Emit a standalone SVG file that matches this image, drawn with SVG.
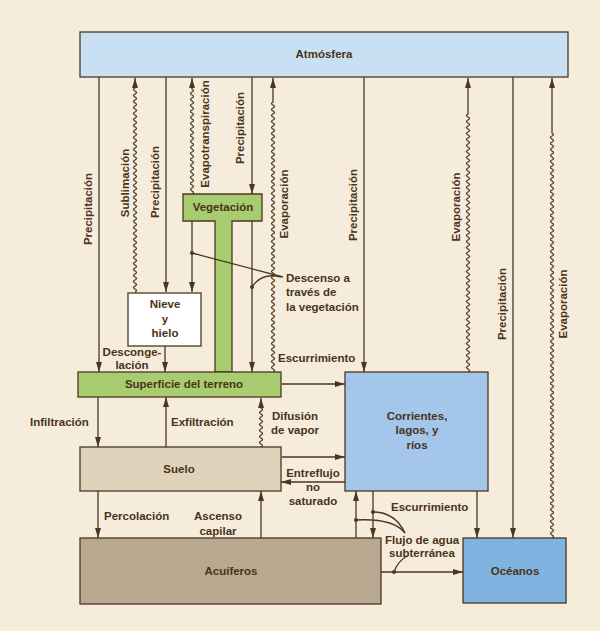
<svg xmlns="http://www.w3.org/2000/svg" width="600" height="631" viewBox="0 0 600 631">
<defs>
<style>
.bx{stroke:#4b3621;stroke-width:1.3}
.t{font-family:"Liberation Sans",Arial,sans-serif;font-weight:bold;font-size:11.5px;fill:#4a3319}
.m{text-anchor:middle}
.ln{stroke:#4b3621;stroke-width:1.3;fill:none}
.ar{marker-end:url(#ah)}
.dot{fill:#4b3621}
</style>
<marker id="ah" viewBox="0 0 10 6" refX="10" refY="3" markerWidth="10" markerHeight="6" markerUnits="userSpaceOnUse" orient="auto"><path d="M0,0 L10,3 L0,6 z" fill="#4b3621"/></marker>
</defs>
<rect x="0" y="0" width="600" height="631" fill="#f5ecdc"/>

<g id="vegetacion">
<path class="bx" fill="#a8cc70" d="M183,194 H262 V221 H232 V372 H215 V221 H183 Z"/>
<text class="t m" x="223" y="211">Vegetación</text>
</g>
<g id="atmosfera">
<rect class="bx" x="80" y="32" width="488" height="45" fill="#c8e0f2"/>
<text class="t m" x="324" y="58">Atmósfera</text>
</g>
<g id="nieve">
<rect class="bx" x="128" y="293" width="73" height="53" fill="#ffffff"/>
<text class="t m" x="165" y="308">Nieve</text>
<text class="t m" x="165" y="323">y</text>
<text class="t m" x="165" y="337">hielo</text>
</g>
<g id="superficie">
<rect class="bx" x="78" y="372" width="203" height="25" fill="#a8cc70"/>
<text class="t m" x="184" y="388">Superficie del terreno</text>
</g>
<g id="corrientes">
<rect class="bx" x="345" y="372" width="143" height="119" fill="#a3c6ea"/>
<text class="t m" x="417" y="420">Corrientes,</text>
<text class="t m" x="417" y="434">lagos, y</text>
<text class="t m" x="417" y="449">ríos</text>
</g>
<g id="suelo">
<rect class="bx" x="80" y="447" width="201" height="44" fill="#e0d3bb"/>
<text class="t m" x="179" y="473">Suelo</text>
</g>
<g id="acuiferos">
<rect class="bx" x="80" y="538" width="301" height="66" fill="#b9a890"/>
<text class="t m" x="231" y="575">Acuíferos</text>
</g>
<g id="oceanos">
<rect class="bx" x="463" y="538" width="103" height="65" fill="#7fb3e0"/>
<text class="t m" x="515" y="575">Océanos</text>
</g>

<g id="connectors">
<path class="ln ar" d="M99,77 V372"/>
<path class="ln ar" d="M166,77 V292"/>
<path class="ln ar" d="M252,77 V194"/>
<path class="ln ar" d="M364,77 V372"/>
<path class="ln ar" d="M513,77 V538"/>
<path class="ln ar" d="M192,221 V292"/>
<path class="ln ar" d="M252,221 V372"/>
<path class="ln ar" d="M165,346 V372"/>
<path class="ln ar" d="M282,384 H345"/>
<path class="ln ar" d="M98,397 V447"/>
<path class="ln ar" d="M166,447 V397"/>
<path class="ln ar" d="M282,457 H345"/>
<path class="ln ar" d="M345,482 H281"/>
<path class="ln ar" d="M98,491 V538"/>
<path class="ln ar" d="M261,538 V491"/>
<path class="ln ar" d="M356,538 V491"/>
<path class="ln ar" d="M373,491 V538"/>
<path class="ln ar" d="M477,491 V538"/>
<path class="ln ar" d="M381,572 H463"/>
<path class="ln ar" d="M135,292 q3,-1.5 0,-3 t0-3 0-3 0-3 0-3 0-3 0-3 0-3 0-3 0-3 0-3 0-3 0-3 0-3 0-3 0-3 0-3 0-3 0-3 0-3 0-3 0-3 0-3 0-3 0-3 0-3 0-3 0-3 0-3 0-3 0-3 0-3 0-3 0-3 0-3 0-3 0-3 0-3 0-3 0-3 0-3 0-3 0-3 0-3 0-3 0-3 0-3 0-3 0-3 0-3 0-3 0-3 0-3 0-3 0-3 0-3 0-3 0-3 0-3 0-3 0-3 0-3 0-3 0-3 0-3 0-3 0-3 0-3 V78"/>
<path class="ln ar" d="M192,194 q3,-1.5 0,-3 t0-3 0-3 0-3 0-3 0-3 0-3 0-3 0-3 0-3 0-3 0-3 0-3 0-3 0-3 0-3 0-3 0-3 0-3 0-3 0-3 0-3 0-3 0-3 0-3 0-3 0-3 0-3 0-3 0-3 0-3 0-3 0-3 0-3 0-3 V78"/>
<path class="ln ar" d="M273,372 q3,-1.5 0,-3 t0-3 0-3 0-3 0-3 0-3 0-3 0-3 0-3 0-3 0-3 0-3 0-3 0-3 0-3 0-3 0-3 0-3 0-3 0-3 0-3 0-3 0-3 0-3 0-3 0-3 0-3 0-3 0-3 0-3 0-3 0-3 0-3 0-3 0-3 0-3 0-3 0-3 0-3 0-3 0-3 0-3 0-3 0-3 0-3 0-3 0-3 0-3 0-3 0-3 0-3 0-3 0-3 0-3 0-3 0-3 0-3 0-3 0-3 0-3 0-3 0-3 0-3 0-3 0-3 0-3 0-3 0-3 0-3 0-3 0-3 0-3 0-3 0-3 0-3 0-3 0-3 0-3 0-3 0-3 0-3 0-3 0-3 0-3 0-3 0-3 0-3 0-3 0-3 0-3 V78"/>
<path class="ln ar" d="M468,372 q3,-1.5 0,-3 t0-3 0-3 0-3 0-3 0-3 0-3 0-3 0-3 0-3 0-3 0-3 0-3 0-3 0-3 0-3 0-3 0-3 0-3 0-3 0-3 0-3 0-3 0-3 0-3 0-3 0-3 0-3 0-3 0-3 0-3 0-3 0-3 0-3 0-3 0-3 0-3 0-3 0-3 0-3 0-3 0-3 0-3 0-3 0-3 0-3 0-3 0-3 0-3 0-3 0-3 0-3 0-3 0-3 0-3 0-3 0-3 0-3 0-3 0-3 0-3 0-3 0-3 0-3 0-3 0-3 0-3 0-3 0-3 0-3 0-3 0-3 0-3 0-3 0-3 0-3 0-3 0-3 0-3 0-3 0-3 0-3 0-3 0-3 0-3 0-3 V78"/>
<path class="ln ar" d="M552,538 q3,-1.5 0,-3 t0-3 0-3 0-3 0-3 0-3 0-3 0-3 0-3 0-3 0-3 0-3 0-3 0-3 0-3 0-3 0-3 0-3 0-3 0-3 0-3 0-3 0-3 0-3 0-3 0-3 0-3 0-3 0-3 0-3 0-3 0-3 0-3 0-3 0-3 0-3 0-3 0-3 0-3 0-3 0-3 0-3 0-3 0-3 0-3 0-3 0-3 0-3 0-3 0-3 0-3 0-3 0-3 0-3 0-3 0-3 0-3 0-3 0-3 0-3 0-3 0-3 0-3 0-3 0-3 0-3 0-3 0-3 0-3 0-3 0-3 0-3 0-3 0-3 0-3 0-3 0-3 0-3 0-3 0-3 0-3 0-3 0-3 0-3 0-3 0-3 0-3 0-3 0-3 0-3 0-3 0-3 0-3 0-3 0-3 0-3 0-3 0-3 0-3 0-3 0-3 0-3 0-3 0-3 0-3 0-3 0-3 0-3 0-3 0-3 0-3 0-3 0-3 0-3 0-3 0-3 0-3 0-3 0-3 0-3 0-3 0-3 0-3 0-3 0-3 0-3 0-3 0-3 0-3 0-3 0-3 0-3 0-3 0-3 0-3 V78"/>
<path class="ln ar" d="M261,447 q3,-1.5 0,-3 t0-3 0-3 0-3 0-3 0-3 0-3 0-3 0-3 0-3 0-3 0-3 0-3 V398"/>
<path class="ln" stroke-width="1" d="M192,253 L283,277"/>
<path class="ln" stroke-width="1" d="M252,287 Q262,272 281,277"/>
<path class="ln" stroke-width="1" d="M373,512 Q395,512 405,533"/>
<path class="ln" stroke-width="1" d="M356,520 Q393,518 405,533"/>
<path class="ln" stroke-width="1" d="M394,572 Q398,561 407,556"/>
<circle class="dot" cx="192" cy="253" r="2"/>
<circle class="dot" cx="252" cy="287" r="2"/>
<circle class="dot" cx="373" cy="512" r="2"/>
<circle class="dot" cx="356" cy="520" r="2"/>
<circle class="dot" cx="394" cy="572" r="2"/>
<text class="t m" transform="translate(92,209) rotate(-90)">Precipitación</text>
<text class="t m" transform="translate(129,183) rotate(-90)">Sublimación</text>
<text class="t m" transform="translate(159,182) rotate(-90)">Precipitación</text>
<text class="t m" transform="translate(209,134) rotate(-90)">Evapotranspiración</text>
<text class="t m" transform="translate(244,128) rotate(-90)">Precipitación</text>
<text class="t m" transform="translate(288,204) rotate(-90)">Evaporación</text>
<text class="t m" transform="translate(357,205) rotate(-90)">Precipitación</text>
<text class="t m" transform="translate(460,207) rotate(-90)">Evaporación</text>
<text class="t m" transform="translate(506,304) rotate(-90)">Precipitación</text>
<text class="t m" transform="translate(567,304) rotate(-90)">Evaporación</text>
<text class="t" x="286" y="282">Descenso a</text>
<text class="t" x="286" y="296">través de</text>
<text class="t" x="286" y="311">la vegetación</text>
<text class="t m" x="132" y="356">Desconge-</text>
<text class="t m" x="132" y="369">lación</text>
<text class="t" x="278" y="362">Escurrimiento</text>
<text class="t" x="30" y="426">Infiltración</text>
<text class="t" x="171" y="426">Exfiltración</text>
<text class="t m" x="295" y="420">Difusión</text>
<text class="t m" x="295" y="434">de vapor</text>
<text class="t m" x="313" y="477">Entreflujo</text>
<text class="t m" x="313" y="491">no</text>
<text class="t m" x="313" y="505">saturado</text>
<text class="t" x="104" y="520">Percolación</text>
<text class="t m" x="218" y="520">Ascenso</text>
<text class="t m" x="218" y="535">capilar</text>
<text class="t" x="391" y="511">Escurrimiento</text>
<text class="t m" x="422" y="544">Flujo de agua</text>
<text class="t m" x="422" y="557">subterránea</text>
</g>
</svg>
